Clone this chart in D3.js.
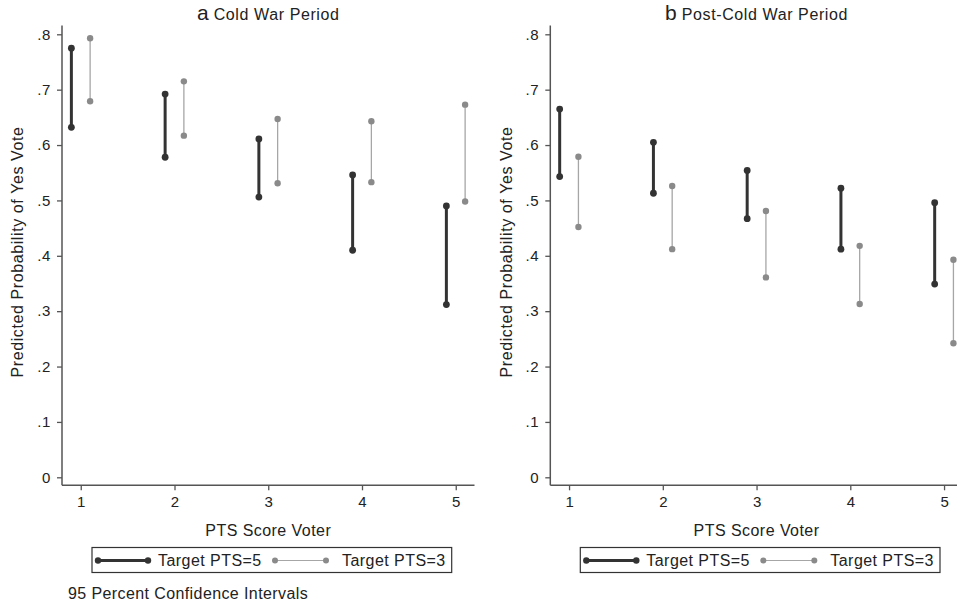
<!DOCTYPE html>
<html>
<head>
<meta charset="utf-8">
<script src="https://cdn.jsdelivr.net/npm/d3@7"></script>
<style>
  body { margin: 0; background: #fff; }
  text { font-family: "Liberation Sans", Arial, sans-serif; fill: #222; }
</style>
</head>
<body>
<div id="chart-area"></div>
<script>
// SVG Size
var width = 957,
    height = 605;

// PTS score of the voter
var scores = [1, 2, 3, 4, 5];
var yTicks = [0, 0.1, 0.2, 0.3, 0.4, 0.5, 0.6, 0.7, 0.8];

// Cold War period, 95% CI bounds
var coldHigh5 = [0.775, 0.692, 0.611, 0.546, 0.490];
var coldLow5  = [0.632, 0.578, 0.506, 0.410, 0.312];
var coldHigh3 = [0.793, 0.715, 0.647, 0.643, 0.673];
var coldLow3  = [0.679, 0.617, 0.531, 0.533, 0.498];

// Post-Cold War period, 95% CI bounds
var postHigh5 = [0.665, 0.605, 0.554, 0.522, 0.496];
var postLow5  = [0.543, 0.513, 0.467, 0.412, 0.349];
var postHigh3 = [0.579, 0.526, 0.481, 0.418, 0.393];
var postLow3  = [0.452, 0.412, 0.361, 0.313, 0.242];

var svg = d3.select("#chart-area").append("svg")
    .attr("width", width)
    .attr("height", height);

var darkCol = "#333333",
    greyCol = "#8a8a8a",
    greyLine = "#a6a6a6";

function tickFormat(d) {
    if (d == 0) return "0";
    return d3.format(".1f")(d).replace(/^0/, "");
}

function panel(left, letter, title, high5, low5, high3, low3) {
    var g = svg.append("g").attr("transform", "translate(" + left + ",0)");

    var x = d3.scaleLinear().domain([0.8, 5.2]).range([0, 412.5]);
    var y = d3.scaleLinear().domain([0, 0.8]).range([477.3, 34.3]);

    // y axis
    var yAxis = d3.axisLeft(y).tickValues(yTicks).tickFormat(tickFormat).tickSize(5).tickPadding(6);
    var ya = g.append("g").call(yAxis);
    ya.select(".domain").attr("d", "M0,25.5V485.3").attr("stroke", "#555").attr("stroke-width", 1.5);
    ya.selectAll(".tick line").attr("stroke", "#555").attr("stroke-width", 1.3);
    ya.selectAll(".tick text").style("font-size", "15px").style("letter-spacing", "0.6px").attr("fill", "#222");

    // x axis
    var xAxis = d3.axisBottom(x).tickValues(scores).tickFormat(d3.format("d")).tickSize(5).tickPadding(6);
    var xa = g.append("g").attr("transform", "translate(0,485.3)").call(xAxis);
    xa.select(".domain").attr("d", "M0,0H412.5").attr("stroke", "#555").attr("stroke-width", 1.5);
    xa.selectAll(".tick line").attr("stroke", "#555").attr("stroke-width", 1.3);
    xa.selectAll(".tick text").style("font-size", "15px").attr("fill", "#222");

    // CI bars
    var series = [
        { hi: high5, lo: low5, off: -0.1, col: darkCol, line: darkCol, w: 3, r: 3.4 },
        { hi: high3, lo: low3, off: 0.1, col: greyCol, line: greyLine, w: 1.3, r: 3.2 }
    ];
    series.forEach(function (s) {
        g.selectAll(null)
            .data(scores)
            .enter()
            .append("line")
            .attr("x1", function (d) { return x(d + s.off); })
            .attr("x2", function (d) { return x(d + s.off); })
            .attr("y1", function (d, i) { return y(s.hi[i]); })
            .attr("y2", function (d, i) { return y(s.lo[i]); })
            .attr("stroke", s.line)
            .attr("stroke-width", s.w);
        [s.hi, s.lo].forEach(function (vals) {
            g.selectAll(null)
                .data(scores)
                .enter()
                .append("circle")
                .attr("cx", function (d) { return x(d + s.off); })
                .attr("cy", function (d, i) { return y(vals[i]); })
                .attr("r", s.r)
                .attr("fill", s.col);
        });
    });

    // titles
    var t = g.append("text")
        .attr("x", x(3))
        .attr("y", 20)
        .attr("text-anchor", "middle");
    t.append("tspan").style("font-size", "21px").text(letter);
    t.append("tspan").style("font-size", "16px").style("letter-spacing", "0.6px").text(" " + title);

    g.append("text")
        .attr("text-anchor", "middle")
        .attr("transform", "translate(" + (letter == "a" ? -39 : -38) + ",252) rotate(-90)")
        .style("font-size", "16px")
        .style("letter-spacing", "0.6px")
        .text("Predicted Probability of Yes Vote");

    g.append("text")
        .attr("x", x(3))
        .attr("y", 536)
        .attr("text-anchor", "middle")
        .style("font-size", "16px")
        .style("letter-spacing", "0.45px")
        .text("PTS Score Voter");

    // legend
    var lx = x(0.8) + 30;
    var leg = g.append("g").attr("transform", "translate(" + lx + ",547.5)");
    leg.append("rect")
        .attr("width", 359.7)
        .attr("height", 25)
        .attr("fill", "none")
        .attr("stroke", "#333")
        .attr("stroke-width", 1.2);
    var items = [
        { label: "Target PTS=5", col: darkCol, line: darkCol, w: 3, r: 3.2, x0: 6, x1: 56, tx: 66 },
        { label: "Target PTS=3", col: greyCol, line: greyLine, w: 1.2, r: 3, x0: 183, x1: 234, tx: 250 }
    ];
    items.forEach(function (it) {
        leg.append("line")
            .attr("x1", it.x0).attr("x2", it.x1)
            .attr("y1", 13).attr("y2", 13)
            .attr("stroke", it.line)
            .attr("stroke-width", it.w);
        [it.x0, it.x1].forEach(function (cx) {
            leg.append("circle").attr("cx", cx).attr("cy", 13).attr("r", it.r).attr("fill", it.col);
        });
        leg.append("text")
            .attr("x", it.tx)
            .attr("y", 18.8)
            .style("font-size", "16px")
            .style("letter-spacing", "0.45px")
            .text(it.label);
    });
}

panel(62, "a", "Cold War Period", coldHigh5, coldLow5, coldHigh3, coldLow3);
panel(550.3, "b", "Post-Cold War Period", postHigh5, postLow5, postHigh3, postLow3);

svg.append("text")
    .attr("x", 68)
    .attr("y", 599)
    .style("font-size", "16px")
    .style("letter-spacing", "0.4px")
    .text("95 Percent Confidence Intervals");
</script>
</body>
</html>
